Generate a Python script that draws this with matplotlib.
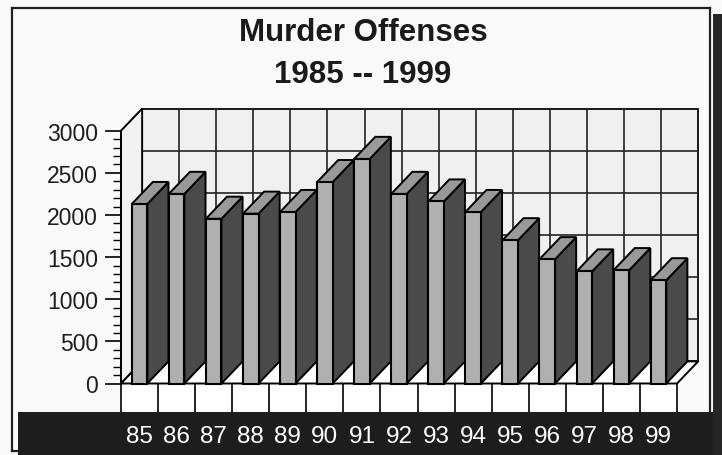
#!/usr/bin/env python

"""
Murder offenses 1985 - 1999, drawn as a pseudo 3D bar chart
like the old scanned report figure.
"""

import numpy as np
import matplotlib.pyplot as plt
from matplotlib.patches import Polygon, Rectangle
from matplotlib.lines import Line2D

# data
years = ['85', '86', '87', '88', '89', '90', '91', '92',
         '93', '94', '95', '96', '97', '98', '99']
offenses = [2130, 2250, 1955, 2015, 2035, 2390, 2665, 2250,
            2160, 2035, 1700, 1475, 1330, 1345, 1225]
y_ticks = [0, 500, 1000, 1500, 2000, 2500, 3000]

title_lines = ['Murder Offenses', '1985 -- 1999']


def main():
    """ main body """
    plt.rcParams['font.family'] = ['Liberation Sans', 'DejaVu Sans']

    # figure size in pixels
    width, height = 722, 456
    fig = plt.figure(figsize=(width / 100, height / 100), dpi=100)
    fig.patch.set_facecolor('#f9f9f9')

    # axes placed so the front plane lines up with the reference
    left, right, bottom, top = 121, 677, 384.5, 131.7
    ax = fig.add_axes([left / width, 1 - bottom / height,
                       (right - left) / width, (bottom - top) / height])
    ax.set_xlim(0, len(years))
    ax.set_ylim(0, y_ticks[-1])
    ax.patch.set_visible(False)

    # depth of the 3D box (in data units)
    dx = 0.57
    dy = 262
    n = len(years)
    ymax = y_ticks[-1]
    edge = dict(edgecolor='black', linewidth=1.4, clip_on=False)

    # back wall with grid
    ax.add_patch(Polygon([(dx, dy), (n + dx, dy), (n + dx, ymax + dy),
                          (dx, ymax + dy)], facecolor='#f0f0f0',
                         zorder=0, **edge))
    for v in y_ticks:
        ax.plot([dx, n + dx], [v + dy, v + dy], color='#222222',
                lw=1.2, clip_on=False, zorder=0.5)
    for i in range(n + 1):
        ax.plot([i + dx, i + dx], [dy, ymax + dy], color='#222222',
                lw=1.2, clip_on=False, zorder=0.5)

    # left wall and floor
    ax.add_patch(Polygon([(0, 0), (dx, dy), (dx, ymax + dy), (0, ymax)],
                         facecolor='#f2f2f2', zorder=1, **edge))
    ax.add_patch(Polygon([(0, 0), (n, 0), (n + dx, dy), (dx, dy)],
                         facecolor='white', zorder=1, **edge))

    # bars: front face with ax.bar, side and top as polygons
    x = np.arange(n)
    off = 0.29
    bw = 0.42
    ax.bar(x + off, offenses, width=bw, align='edge', color='#b0b0b0',
           edgecolor='black', linewidth=1.5, zorder=3, clip_on=False)
    for xi, v in zip(x, offenses):
        x0 = xi + off
        x1 = x0 + bw
        side = [(x1, 0), (x1 + dx, dy), (x1 + dx, v + dy), (x1, v)]
        topf = [(x0, v), (x1, v), (x1 + dx, v + dy), (x0 + dx, v + dy)]
        ax.add_patch(Polygon(side, facecolor='#4a4a4a', zorder=2, **edge))
        ax.add_patch(Polygon(topf, facecolor='#999999', zorder=2, **edge))

    # cells under the floor
    cell = -338
    ax.vlines(np.arange(n + 1), cell, 0, colors='black', lw=1.2,
              clip_on=False, zorder=1)
    ax.add_patch(Rectangle((0, cell), n, -cell, facecolor='white',
                           edgecolor='none', clip_on=False, zorder=0.2))

    # y axis
    for s in ['top', 'right', 'bottom']:
        ax.spines[s].set_visible(False)
    ax.spines['left'].set_linewidth(1.4)
    ax.spines['left'].set_zorder(4)
    ax.set_yticks(y_ticks)
    ax.set_yticklabels([str(v) for v in y_ticks])
    ax.set_yticks(np.arange(0, ymax + 1, 100), minor=True)
    ax.tick_params(axis='y', which='major', length=11.5, width=1.2,
                   pad=5, labelsize=16.5, labelcolor='#1e1e1e')
    ax.tick_params(axis='y', which='minor', length=5.5, width=1.0)

    # x labels, white on the dark band
    ax.set_xticks(x + 0.5)
    ax.set_xticklabels(years)
    ax.tick_params(axis='x', length=0, pad=30, labelsize=17.5,
                   labelcolor='white')

    # dark band and frame
    fig.patches.append(Rectangle((18 / width, 0), 1, (height - 413) / height,
                                 transform=fig.transFigure,
                                 facecolor='#1d1d1d', zorder=-1))
    fig.patches.append(Rectangle((713 / width, 0), 1, (height - 15) / height,
                                 transform=fig.transFigure,
                                 facecolor='#262626', zorder=-1))

    def fig_line(xs, ys, lw=1.6):
        fig.lines.append(Line2D([a / width for a in xs],
                                [1 - b / height for b in ys],
                                transform=fig.transFigure,
                                color='#202020', lw=lw))

    fig_line([12, 12], [9, 452])
    fig_line([12, 18], [452, 452])
    fig_line([12, 710], [9, 9])
    fig_line([710, 710], [9, 413])

    # title
    fig.text(363 / width, 1 - 33 / height, title_lines[0], ha='center',
             va='center', fontsize=22.5, fontweight='bold', color='#1a1a1a')
    fig.text(363 / width, 1 - 75 / height, title_lines[1], ha='center',
             va='center', fontsize=22.5, fontweight='bold', color='#1a1a1a')

    fig.savefig('out.png', dpi=100, facecolor=fig.get_facecolor())


if __name__ == "__main__":
    main()
